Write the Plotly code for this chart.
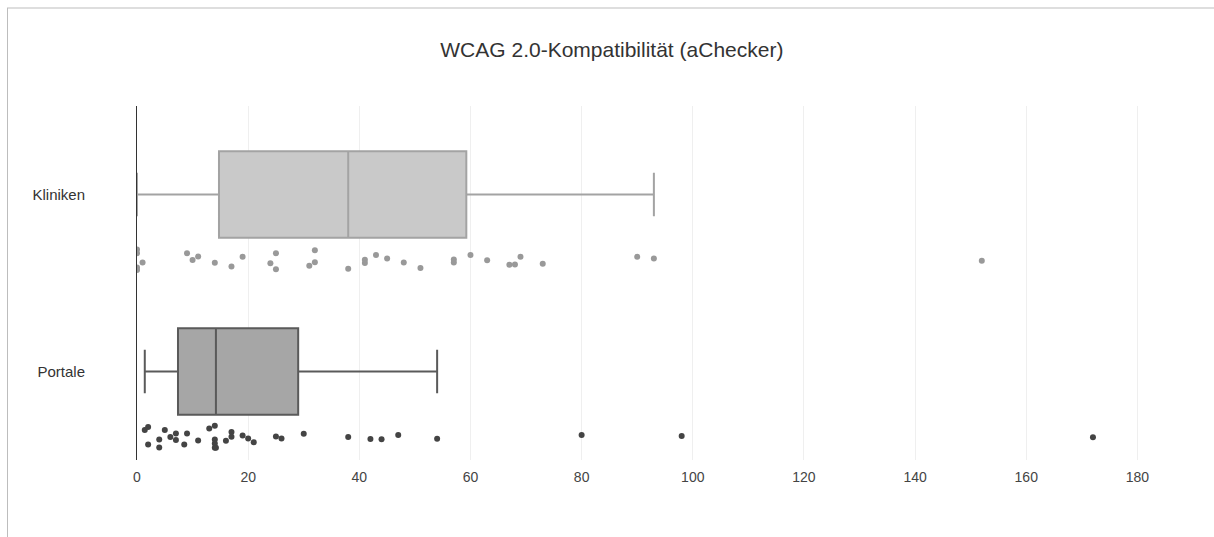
import plotly.graph_objects as go

title_text = "WCAG 2.0-Kompatibilität (aChecker)"
categories = ["Portale", "Kliniken"]

kliniken = [0, 0, 0, 0, 1, 9, 10, 11, 14, 17, 19, 24, 25, 25, 31, 32, 32, 38,
            41, 41, 43, 45, 48, 51, 57, 57, 60, 63, 67, 68, 69, 73, 90, 93, 152]
portale = [1.4, 2, 2, 4, 4, 5, 6, 7, 7, 8.5, 9, 11, 13, 14, 14, 14, 14, 14.2,
           16, 17, 17, 19, 20, 21, 25, 26, 30, 38, 42, 44, 47, 54, 80, 98, 172]

x_ticks = [0, 20, 40, 60, 80, 100, 120, 140, 160, 180]

W, H = 1214, 537
ML, MR, MT, MB = 137, 21, 106, 77

fig = go.Figure()
fig.add_trace(go.Box(
    x=portale, y=["Portale"] * len(portale), name="Portale", orientation="h",
    boxpoints="all", pointpos=-1.5, jitter=0.3, width=0.49,
    fillcolor="#a6a6a6", line=dict(color="#5a5a5a", width=2),
    marker=dict(color="#444444", size=6, line=dict(width=0)),
    hoverinfo="skip", showlegend=False,
))
fig.add_trace(go.Box(
    x=kliniken, y=["Kliniken"] * len(kliniken), name="Kliniken", orientation="h",
    boxpoints="all", pointpos=-1.5, jitter=0.3, width=0.49,
    fillcolor="#c9c9c9", line=dict(color="#a3a3a3", width=2),
    marker=dict(color="#999999", size=6, line=dict(width=0)),
    hoverinfo="skip", showlegend=False,
))

pw = W - ML - MR
ph = H - MT - MB
def px_x(p):
    return (p - ML) / pw
def px_y(p):
    return (H - MB - p) / ph

shapes = [
    dict(type="line", xref="paper", yref="paper", x0=px_x(7), x1=px_x(W + 5),
         y0=px_y(8), y1=px_y(8), line=dict(color="#bdbdbd", width=1)),
    dict(type="line", xref="paper", yref="paper", x0=px_x(7.5), x1=px_x(7.5),
         y0=px_y(8), y1=px_y(H + 5), line=dict(color="#bdbdbd", width=1)),
]

fig.update_layout(
    width=W, height=H,
    margin=dict(l=ML, r=MR, t=MT, b=MB),
    paper_bgcolor="white", plot_bgcolor="white",
    font=dict(family="Liberation Sans, Arial, sans-serif", size=14, color="#444444"),
    title=dict(text=title_text, x=0.504, xref="container", xanchor="center",
               y=1 - 50 / H, yanchor="middle", yref="container",
               font=dict(size=21, color="#333333")),
    xaxis=dict(range=[0, 190], tickvals=x_ticks, showgrid=True, gridcolor="#efefef",
               gridwidth=1, zeroline=False, showline=False, ticks="",
               ticklabelstandoff=7,
               tickfont=dict(size=14, color="#444444"), fixedrange=True),
    yaxis=dict(type="category", categoryorder="array", categoryarray=categories,
               range=[-0.5, 1.5], showgrid=False, zeroline=False, showline=True,
               linecolor="#333333", linewidth=1, ticks="", ticklabelstandoff=48,
               tickfont=dict(size=15, color="#333333"), fixedrange=True),
    shapes=shapes,
)

fig.write_html("out.html", config={"displayModeBar": False},
               post_script="document.body.style.margin='0';")
